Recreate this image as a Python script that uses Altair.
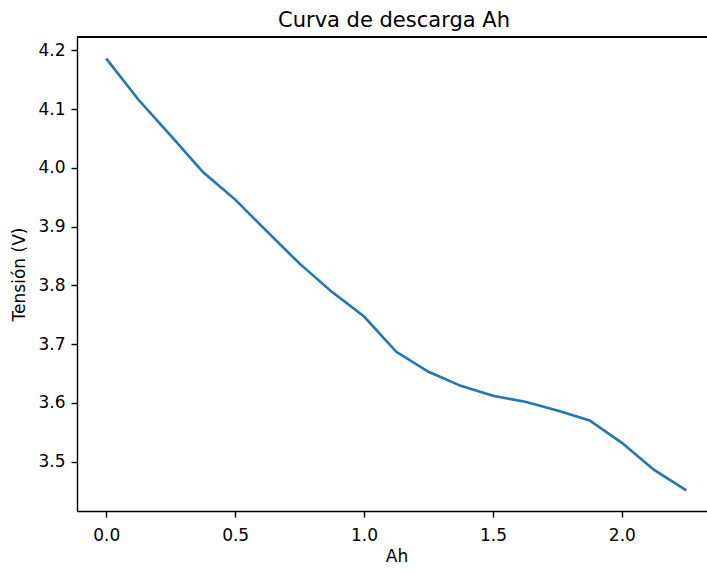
import altair as alt
import pandas as pd

ah = [0.0, 0.125, 0.25, 0.375, 0.5, 0.625, 0.75, 0.875, 1.0, 1.125, 1.25,
      1.375, 1.5, 1.625, 1.75, 1.875, 2.0, 2.125, 2.25]
tension = [4.186, 4.116, 4.055, 3.993, 3.946, 3.891, 3.837, 3.789, 3.747, 3.687, 3.653,
           3.629, 3.612, 3.602, 3.587, 3.570, 3.532, 3.486, 3.451]
x_ticks = [0.0, 0.5, 1.0, 1.5, 2.0]
y_ticks = [3.5, 3.6, 3.7, 3.8, 3.9, 4.0, 4.1, 4.2]

df = pd.DataFrame({"Ah": ah, "V": tension})

FONT = "DejaVu Sans"
W, H = 630, 474

line = alt.Chart(df).mark_line(color="#1f77b4", strokeWidth=2.6, clip=True).encode(
    x=alt.X("Ah:Q", title="Ah",
            scale=alt.Scale(domain=[-0.1135, 2.3302], nice=False, zero=False),
            axis=alt.Axis(values=x_ticks, format=".1f", titleX=319.5,
                          labelPadding=10, titlePadding=5)),
    y=alt.Y("V:Q", title="Tensión (V)",
            scale=alt.Scale(domain=[3.416, 4.2228], nice=False, zero=False),
            axis=alt.Axis(values=y_ticks, format=".1f", labelPadding=6, titlePadding=9)),
)

top = alt.Chart(df).mark_rule(color="black", strokeWidth=1.4).encode(
    x=alt.value(0), x2=alt.value(W), y=alt.value(0)
)

chart = alt.layer(line, top).properties(
    width=W, height=H,
    title=alt.TitleParams("Curva de descarga Ah", font=FONT, fontSize=21,
                          fontWeight="normal", color="black", offset=5, dx=2),
    autosize=alt.AutoSizeParams(type="none"),
    padding={"left": 77, "top": 37, "right": 0, "bottom": 61},
).configure_view(
    stroke=None
).configure_axis(
    grid=False, domain=True, domainColor="black", domainWidth=1.4,
    tickColor="black", tickSize=6, tickWidth=1.4,
    labelFont=FONT, labelFontSize=17, labelColor="black",
    titleFont=FONT, titleFontSize=17, titleFontWeight="normal", titleColor="black",
)

chart.save("out.html", embed_options={"renderer": "svg", "actions": False})
